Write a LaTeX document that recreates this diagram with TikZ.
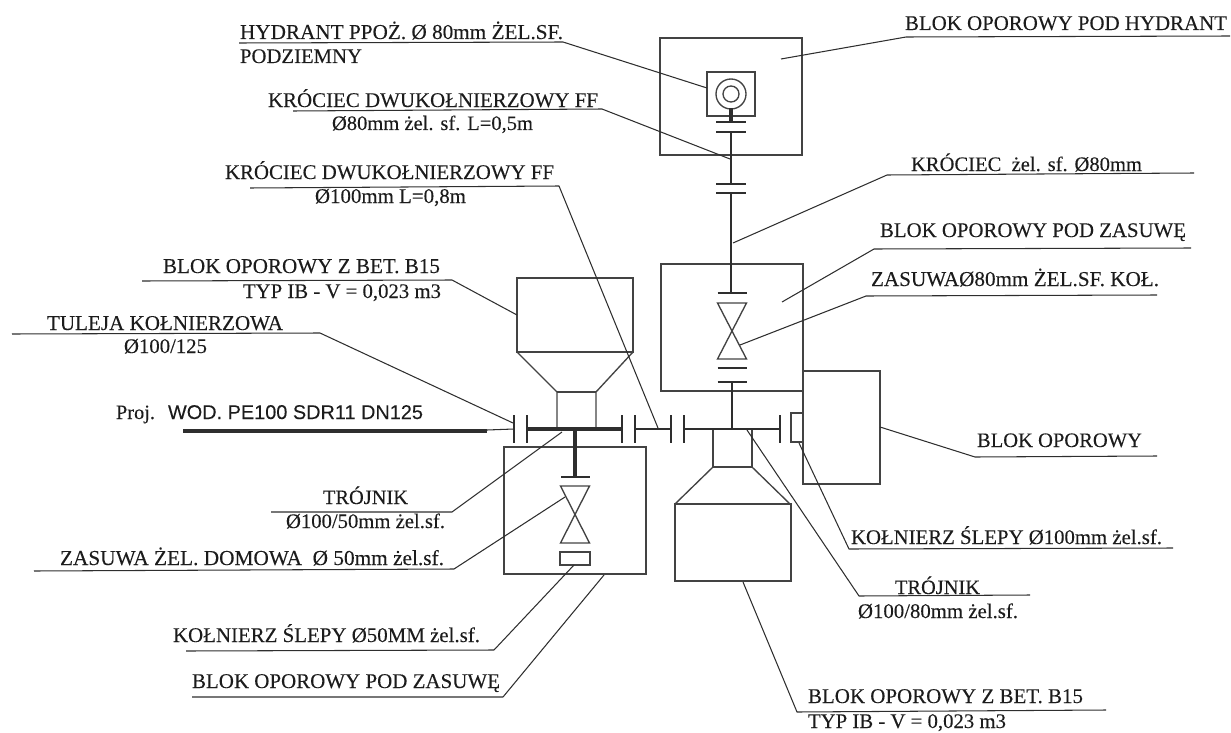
\documentclass[tikz,border=0pt]{standalone}
\usepackage{fontspec}
\usepackage{graphicx}
\setmainfont{Liberation Serif}[FakeBold=0.12]
\newfontfamily\arialf{Liberation Sans}[FakeBold=0.12]
\definecolor{ink}{HTML}{2E2E2E}
\definecolor{txt}{HTML}{1C1C1C}
\tikzset{
  shapeline/.style={draw=ink!90,line width=1.35pt},
  leader/.style={draw=ink,line width=1.05pt,line join=round},
  flange/.style={draw=ink,line width=1.35pt},
  pipe/.style={draw=ink,line width=2.8pt},
  heavypipe/.style={draw=ink,line width=3.6pt},
  lab/.style={anchor=base west,inner sep=0pt,outer sep=0pt,text=txt,font=\fontsize{16}{16}\selectfont},
}
\newcommand{\lbl}[5]{\node[lab] (#1) at (#2,#3) {\resizebox{#4pt}{!}{#5}};}
\newcommand{\valve}[4]{% cx, top, bottom, half-width
  \draw[shapeline] (#1-#4,#2) -- (#1+#4,#2) -- (#1-#4,#3) -- (#1+#4,#3) -- cycle;}
\begin{document}
\begin{tikzpicture}[x=1pt,y=-1pt]
\useasboundingbox (0,0) rectangle (1231,733);
% ---- blocks
\draw[shapeline] (660,38) rectangle (802,155);
\draw[shapeline] (707,72) rectangle (755,116);
\draw[shapeline] (731,94) circle (15);
\draw[shapeline] (731,94) circle (8);
\draw[shapeline] (661,264) rectangle (803,391);
\draw[shapeline] (803,371) rectangle (880,484);
\draw[shapeline] (791,413) rectangle (803,442);
\draw[shapeline] (517,278) rectangle (633,352);
\draw[shapeline] (517,352) -- (557,392) -- (557,429) (633,352) -- (596,392) -- (596,429);
\draw[shapeline] (557,392) -- (596,392);
\draw[shapeline] (504,447) rectangle (646,574);
\draw[shapeline] (560,552) rectangle (590,565);
\draw[shapeline] (713,429) -- (713,467) -- (752,467) -- (752,429);
\draw[shapeline] (713,467) -- (675,504) (752,467) -- (790,504);
\draw[shapeline] (675,504) rectangle (791,581);
% ---- valves
\valve{732}{303}{359}{14.5}
\valve{575}{486}{543}{14.5}
% ---- pipes
\draw[draw=ink,line width=4pt] (731,108) -- (731,122);
\draw[pipe] (731,132) -- (731,184);
\draw[pipe] (731,193) -- (731,293);
\draw[pipe] (732,382) -- (732,429);
\draw[heavypipe] (527,429) -- (622,429);
\draw[heavypipe] (575,429) -- (575,477);
\draw[pipe] (635,429) -- (671,429);
\draw[pipe] (684,429) -- (780,429);
\draw[draw=ink,line width=3.6pt] (183,431) -- (487,431);
\draw[draw=ink,line width=1.05pt] (487,430) -- (514,429);
% ---- flanges
\foreach \yy in {122,132,184,193}{\draw[flange] (716,\yy) -- (746,\yy);}
\foreach \yy in {293,368,382}{\draw[flange] (717.5,\yy) -- (746.5,\yy);}
\draw[flange] (561,477) -- (590,477);
\foreach \xx in {514,527,622,635,671,684,780}{\draw[flange] (\xx,415) -- (\xx,443);}
% ---- labels
\lbl{hyd}{240}{39}{323}{HYDRANT PPOŻ. Ø 80mm ŻEL.SF.}
\lbl{podz}{240}{63}{122}{PODZIEMNY}
\lbl{kr1}{268}{107}{330}{KRÓCIEC DWUKOŁNIERZOWY FF}
\lbl{kr1b}{332}{130}{201}{Ø80mm żel. sf. L=0,5m}
\lbl{kr2}{225}{179}{329}{KRÓCIEC DWUKOŁNIERZOWY FF}
\lbl{kr2b}{315}{203}{151}{Ø100mm L=0,8m}
\lbl{bh}{905}{30}{322}{BLOK OPOROWY POD HYDRANT}
\lbl{kr3}{911}{171}{231}{KRÓCIEC\ \ żel. sf. Ø80mm}
\lbl{bz}{880}{237}{306}{BLOK OPOROWY POD ZASUWĘ}
\lbl{zas}{871}{286}{288}{ZASUWAØ80mm ŻEL.SF. KOŁ.}
\lbl{bb}{163}{273}{277}{BLOK OPOROWY Z BET. B15}
\lbl{bbt}{243}{298}{198}{TYP IB - V = 0,023 m3}
\lbl{tul}{47}{330}{236}{TULEJA KOŁNIERZOWA}
\lbl{tulb}{124}{353}{83}{Ø100/125}
\lbl{proj}{116}{419}{39}{Proj.}
\lbl{wod}{168}{419}{255}{\arialf WOD. PE100 SDR11 DN125}
\lbl{tr1}{323}{504}{85}{TRÓJNIK}
\lbl{tr1b}{286}{528}{159}{Ø100/50mm żel.sf.}
\lbl{zd}{60}{565}{384}{ZASUWA ŻEL. DOMOWA\ \ Ø 50mm żel.sf.}
\lbl{ks}{173}{642}{307}{KOŁNIERZ ŚLEPY Ø50MM żel.sf.}
\lbl{bpz}{192}{688}{308}{BLOK OPOROWY POD ZASUWĘ}
\lbl{bo}{977}{447}{165}{BLOK OPOROWY}
\lbl{ks2}{851}{544}{311}{KOŁNIERZ ŚLEPY Ø100mm żel.sf.}
\lbl{tr2}{895}{594}{85}{TRÓJNIK}
\lbl{tr2b}{858}{618}{160}{Ø100/80mm żel.sf.}
\lbl{bb2}{808}{703}{275}{BLOK OPOROWY Z BET. B15}
\lbl{bb2t}{808}{728}{198}{TYP IB - V = 0,023 m3}
% ---- leaders
\coordinate (thyd) at (707,88);
\coordinate (tkr1) at (730,159);
\coordinate (tkr2) at (658,428);
\coordinate (tbh) at (781,59);
\coordinate (tkr3) at (733,243);
\coordinate (tbz) at (782,302);
\coordinate (tzas) at (740,345);
\coordinate (tbb) at (517,315);
\coordinate (ttul) at (513,423);
\coordinate (ttr1) at (562,432);
\coordinate (tzd) at (565,497);
\coordinate (tks) at (574,565);
\coordinate (tbpz) at (604,575);
\coordinate (tbo) at (880,427);
\coordinate (tks2) at (799,443);
\coordinate (ttr2) at (747,430);
\coordinate (tbb2) at (743,582);
\draw[leader] (239,43) -- (563,42) -- (thyd);
\draw[leader] (293,111) -- (602,109) -- (tkr1);
\draw[leader] (250,188) -- (559,186) -- (tkr2);
\draw[leader] (1230,36) -- (906,37) -- (tbh);
\draw[leader] (1194,173) -- (887,175) -- (tkr3);
\draw[leader] (1191,248) -- (874,249) -- (tbz);
\draw[leader] (1157,295) -- (866,296) -- (tzas);
\draw[leader] (142,281) -- (452,280) -- (tbb);
\draw[leader] (12,334) -- (320,333) -- (ttul);
\draw[leader] (271,512) -- (452,512) -- (ttr1);
\draw[leader] (34,571) -- (454,569) -- (tzd);
\draw[leader] (186,651) -- (494,650) -- (tks);
\draw[leader] (192,697) -- (503,697) -- (tbpz);
\draw[leader] (1157,456) -- (975,457) -- (tbo);
\draw[leader] (1173,548) -- (849,549) -- (tks2);
\draw[leader] (1030,595) -- (859,596) -- (ttr2);
\draw[leader] (1106,710) -- (797,712) -- (tbb2);
\end{tikzpicture}
\end{document}
